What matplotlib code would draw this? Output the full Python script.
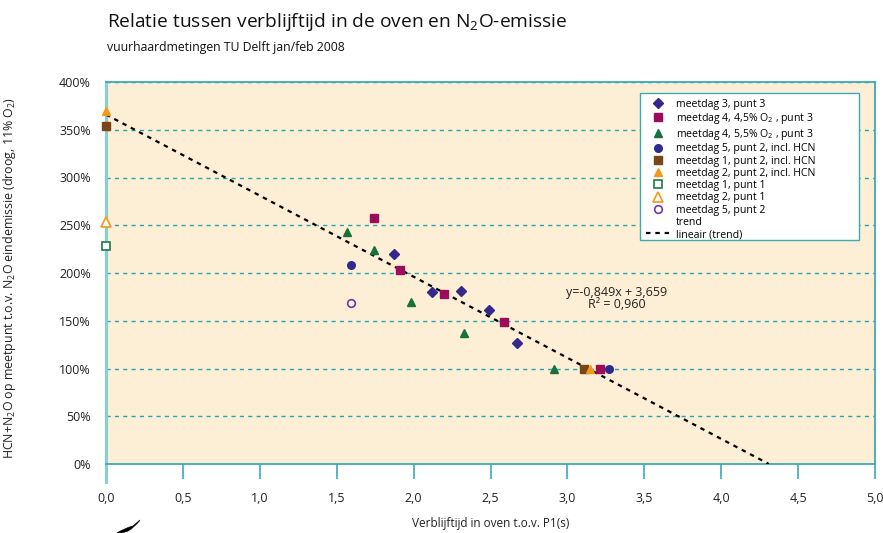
import matplotlib
matplotlib.use("Agg")
import matplotlib.pyplot as plt
import numpy as np
from matplotlib.patches import PathPatch, Rectangle
from matplotlib.path import Path

plt.rcParams['font.family'] = ['Open Sans', 'DejaVu Sans']
plt.rcParams['mathtext.fontset'] = 'custom'
plt.rcParams['mathtext.rm'] = 'Open Sans'

# ---- data ----
d3p3_x = [1.87, 2.12, 2.31, 2.49, 2.67]
d3p3_y = [220, 180, 181, 161, 127]

d4a_x = [1.74, 1.91, 2.20, 2.59, 3.21]
d4a_y = [258, 203, 178, 149, 100]

d4b_x = [1.57, 1.74, 1.98, 2.33, 2.91]
d4b_y = [243, 224, 170, 137, 99]

d5hcn_x = [1.59, 3.27]
d5hcn_y = [208, 100]

d1hcn_x = [0.0, 3.11]
d1hcn_y = [354, 100]

d2hcn_x = [0.0, 3.15]
d2hcn_y = [370, 100]

d1p1_x = [0.0]
d1p1_y = [228]

d2p1_x = [0.0]
d2p1_y = [253]

d5p2_x = [1.59]
d5p2_y = [169]

slope = -0.849
intercept = 3.659

xticks = [0.0, 0.5, 1.0, 1.5, 2.0, 2.5, 3.0, 3.5, 4.0, 4.5, 5.0]
yticks = [0, 50, 100, 150, 200, 250, 300, 350, 400]

teal = '#3aa9b8'
fig = plt.figure(figsize=(8.83, 5.33), dpi=100)
ax = fig.add_axes([106/883, 1 - 464/533, (875-106)/883, (464-82)/533])
ax.set_facecolor('#fdefd5')

ax.set_xlim(0, 5.0)
ax.set_ylim(0, 400)
for yv in yticks[1:]:
    ax.axhline(yv, color='#27a6b5', lw=1.0, ls=(0, (3, 3)), zorder=1)

ms = 5.5
h = []
h.append(ax.plot(d3p3_x, d3p3_y, 'D', color='#35288c', ms=5, ls='none', label='meetdag 3, punt 3', zorder=5)[0])
h.append(ax.plot(d4a_x, d4a_y, 's', color='#9c0b5c', ms=ms, ls='none', label='meetdag 4, 4,5% O$_2$ , punt 3', zorder=5)[0])
h.append(ax.plot(d4b_x, d4b_y, '^', color='#18703a', ms=ms, ls='none', label='meetdag 4, 5,5% O$_2$ , punt 3', zorder=5)[0])
h.append(ax.plot(d5hcn_x, d5hcn_y, 'o', color='#2e2a8e', ms=ms, ls='none', label='meetdag 5, punt 2, incl. HCN', zorder=5)[0])
h.append(ax.plot(d1hcn_x, d1hcn_y, 's', color='#7a4519', ms=ms, ls='none', label='meetdag 1, punt 2, incl. HCN', zorder=6, clip_on=False)[0])
h.append(ax.plot(d2hcn_x, d2hcn_y, '^', color='#f4971a', ms=ms, ls='none', label='meetdag 2, punt 2, incl. HCN', zorder=6, clip_on=False)[0])
h.append(ax.plot(d1p1_x, d1p1_y, 's', mfc='white', mec='#1d7a45', mew=1.2, ms=ms, ls='none', label='meetdag 1, punt 1', zorder=6, clip_on=False)[0])
h.append(ax.plot(d2p1_x, d2p1_y, '^', mfc='white', mec='#f4971a', mew=1.2, ms=ms+1, ls='none', label='meetdag 2, punt 1', zorder=6, clip_on=False)[0])
h.append(ax.plot(d5p2_x, d5p2_y, 'o', mfc='white', mec='#7b2fa0', mew=1.2, ms=ms, ls='none', label='meetdag 5, punt 2', zorder=6)[0])
h.append(ax.plot([], [], ls='none', marker='none', label='trend')[0])

x_end = -intercept / slope
xs = np.array([0.0, x_end])
ys = (slope * xs + intercept) * 100
h.append(ax.plot(xs, ys, color='black', lw=1.6, ls=(0, (2, 2.2)), label='lineair (trend)', zorder=4)[0])

ax.text(3.32, 180, 'y=-0,849x + 3,659', fontsize=9, color='#222222', ha='center', va='center')
ax.text(3.32, 166.5, 'R² = 0,960', fontsize=9, color='#222222', ha='center', va='center')

# axes styling
for s in ['top', 'right', 'bottom']:
    ax.spines[s].set_color(teal)
    ax.spines[s].set_linewidth(1.3)
ax.spines['left'].set_color('#86cfd4')
ax.spines['left'].set_linewidth(2.2)
ax.spines['left'].set_bounds(-19, 400)

ax.set_xticks(xticks)
ax.set_xticklabels([f'{v:.1f}'.replace('.', ',') for v in xticks])
ax.set_yticks(yticks)
ax.set_yticklabels([f'{v}%' for v in yticks])
ax.tick_params(axis='x', direction='out', length=10.5, width=1.2, color=teal, pad=10, labelsize=9, labelcolor='#222222')
ax.tick_params(axis='y', length=0, pad=11, labelsize=9, labelcolor='#222222')

ax.set_xlabel('Verblijftijd in oven t.o.v. P1(s)', fontsize=8.5, color='#222222')
ax.xaxis.set_label_coords(0.5, -(524 - 464) / (464 - 82))
ax.xaxis.label.set_va('center')
ax.set_ylabel('HCN+N$_2$O op meetpunt t.o.v. N$_2$O eindemissie (droog, 11% O$_2$)', fontsize=8.9, color='#222222')
ax.yaxis.set_label_coords(-(106 - 10) / (875 - 106), (464 - 278) / (464 - 82))
ax.yaxis.label.set_va('center')

# legend box (custom frame, Excel-like width)
box = Rectangle((640/883, 1 - 240/533), (859-640)/883, (240-93)/533,
                transform=fig.transFigure, facecolor='white', edgecolor=teal,
                lw=1.0, zorder=8, clip_on=False)
ax.add_patch(box)
leg = ax.legend(handles=h, loc='upper left', bbox_to_anchor=(646/883, 1 - 98.5/533),
                bbox_transform=fig.transFigure, fontsize=7.6, frameon=False,
                borderpad=0.0, labelspacing=0.12, handlelength=2.3, handletextpad=0.55,
                borderaxespad=0)
leg.set_zorder(10)

fig.text(107/883, 1 - 22/533, 'Relatie tussen verblijftijd in de oven en N$_2$O-emissie',
         fontsize=13.8, color='#111111', va='center', ha='left')
fig.text(107/883, 1 - 47/533, 'vuurhaardmetingen TU Delft jan/feb 2008',
         fontsize=8.8, color='#111111', va='center', ha='left')

# small logo swoosh bottom-left
verts = [(117, 533), (125, 528), (133, 526), (140, 520), (135, 527), (128, 531), (122, 533), (117, 533)]
verts = [(x/883, 1 - y/533) for x, y in verts]
codes = [Path.MOVETO, Path.CURVE3, Path.CURVE3, Path.LINETO, Path.CURVE3, Path.CURVE3, Path.LINETO, Path.CLOSEPOLY]
fig.patches.append(PathPatch(Path(verts, codes), transform=fig.transFigure, facecolor='black', edgecolor='black', lw=0.5))

fig.savefig('out.png', dpi=100)
